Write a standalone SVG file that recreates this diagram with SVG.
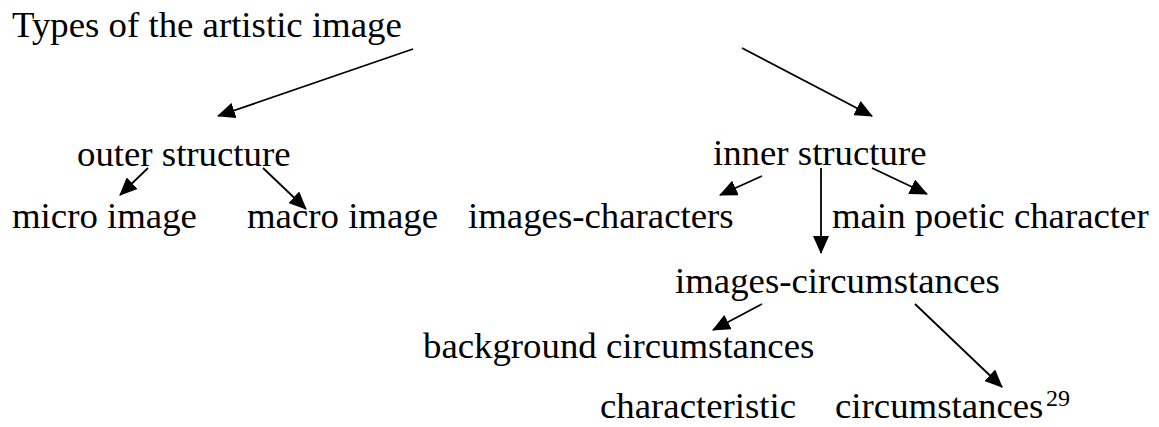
<svg xmlns="http://www.w3.org/2000/svg" width="1159" height="427" viewBox="0 0 1159 427">
  <style>
    text { font-family: "Liberation Serif", "Times New Roman", serif; font-size: 36.8px; fill: #000; }
    .sup { font-size: 24px; }
    .conn line { stroke: #000; stroke-width: 1.8; fill: none; marker-end: url(#arrow); }
  </style>
  <defs>
    <marker id="arrow" viewBox="0 0 18 16" refX="17" refY="8" markerWidth="18" markerHeight="16" markerUnits="userSpaceOnUse" orient="auto">
      <path d="M0,0 L18,8 L0,16 z" fill="#000"/>
    </marker>
  </defs>
  <rect width="1159" height="427" fill="#fff"/>

  <g id="types"><text x="12" y="37">Types of the artistic image</text></g>
  <g id="outer-structure"><text x="77" y="166">outer structure</text></g>
  <g id="inner-structure"><text x="713" y="165">inner structure</text></g>
  <g id="micro-image"><text x="12" y="228">micro image</text></g>
  <g id="macro-image"><text x="247" y="228">macro image</text></g>
  <g id="images-characters"><text x="468" y="228">images-characters</text></g>
  <g id="main-poetic-character"><text x="832" y="228">main poetic character</text></g>
  <g id="images-circumstances"><text x="675" y="293">images-circumstances</text></g>
  <g id="background-circumstances"><text x="423" y="358">background circumstances</text></g>
  <g id="characteristic-circumstances">
    <text x="600" y="418">characteristic</text>
    <text x="835" y="418">circumstances</text>
    <text class="sup" x="1046" y="406">29</text>
  </g>

  <g id="connectors" class="conn">
    <line x1="413" y1="49" x2="218" y2="116"/>
    <line x1="742" y1="48" x2="872" y2="116"/>
    <line x1="148" y1="168" x2="120" y2="195"/>
    <line x1="263" y1="168" x2="306" y2="209"/>
    <line x1="762" y1="176" x2="720" y2="195"/>
    <line x1="821" y1="168" x2="821" y2="253"/>
    <line x1="872" y1="168" x2="927" y2="194"/>
    <line x1="762" y1="304" x2="713" y2="330"/>
    <line x1="915" y1="304" x2="1002" y2="387"/>
  </g>
</svg>
